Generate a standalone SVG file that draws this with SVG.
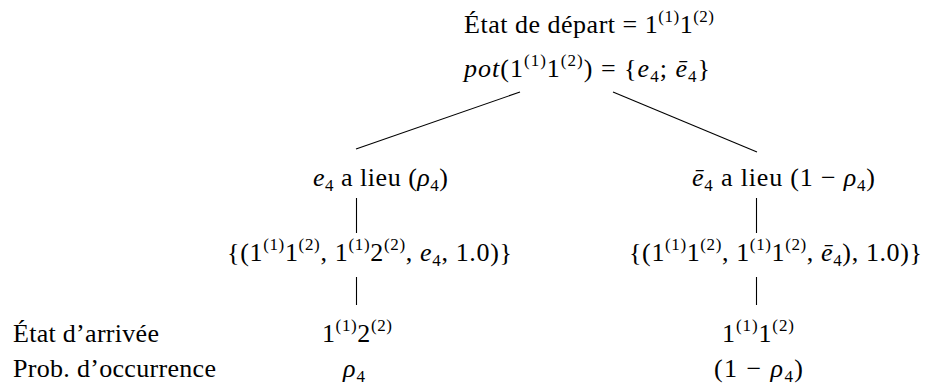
<svg xmlns="http://www.w3.org/2000/svg" width="925" height="387" viewBox="0 0 925 387">
<style>
  text { font-family: "Liberation Serif", "Times New Roman", serif; font-size: 26px; fill: #000; }
  .i { font-style: italic; }
  .s { font-size: 17px; }
  .edge { stroke: #000; stroke-width: 1.1; fill: none; }
</style>
<rect width="925" height="387" fill="#fff"/>
<g id="connectors">
  <line class="edge" x1="520" y1="92" x2="356" y2="149"/>
  <line class="edge" x1="613" y1="92" x2="757" y2="152"/>
  <line class="edge" x1="356.5" y1="198" x2="356.5" y2="233"/>
  <line class="edge" x1="356.5" y1="277" x2="356.5" y2="305"/>
  <line class="edge" x1="756.5" y1="198" x2="756.5" y2="233"/>
  <line class="edge" x1="756.5" y1="277" x2="756.5" y2="305"/>
</g>
<g id="start">
  <text x="464" y="33" textLength="250">État de départ = 1<tspan class="s" dy="-11">(1)</tspan><tspan dy="11">1</tspan><tspan class="s" dy="-11">(2)</tspan></text>
  <text x="464" y="77" textLength="246"><tspan class="i">pot</tspan>(1<tspan class="s" dy="-11">(1)</tspan><tspan dy="11">1</tspan><tspan class="s" dy="-11">(2)</tspan><tspan dy="11">) = {</tspan><tspan class="i">e</tspan><tspan class="s" dy="5">4</tspan><tspan dy="-5">; </tspan><tspan class="i">ē</tspan><tspan class="s" dy="5">4</tspan><tspan dy="-5">}</tspan></text>
</g>
<g id="event-left">
  <text x="313" y="186" textLength="135"><tspan class="i">e</tspan><tspan class="s" dy="5">4</tspan><tspan dy="-5"> a lieu (</tspan><tspan class="i">ρ</tspan><tspan class="s" dy="5">4</tspan><tspan dy="-5">)</tspan></text>
</g>
<g id="set-left">
  <text x="227" y="261" textLength="285">{(1<tspan class="s" dy="-11">(1)</tspan><tspan dy="11">1</tspan><tspan class="s" dy="-11">(2)</tspan><tspan dy="11">, 1</tspan><tspan class="s" dy="-11">(1)</tspan><tspan dy="11">2</tspan><tspan class="s" dy="-11">(2)</tspan><tspan dy="11">, </tspan><tspan class="i">e</tspan><tspan class="s" dy="5">4</tspan><tspan dy="-5">, 1.0)}</tspan></text>
</g>
<g id="end-left">
  <text x="322" y="342" textLength="70">1<tspan class="s" dy="-11">(1)</tspan><tspan dy="11">2</tspan><tspan class="s" dy="-11">(2)</tspan></text>
</g>
<g id="prob-left">
  <text x="343" y="377" textLength="22"><tspan class="i">ρ</tspan><tspan class="s" dy="5">4</tspan></text>
</g>
<g id="event-right">
  <text x="692" y="186" textLength="183"><tspan class="i">ē</tspan><tspan class="s" dy="5">4</tspan><tspan dy="-5"> a lieu (1 − </tspan><tspan class="i">ρ</tspan><tspan class="s" dy="5">4</tspan><tspan dy="-5">)</tspan></text>
</g>
<g id="set-right">
  <text x="629" y="261" textLength="293">{(1<tspan class="s" dy="-11">(1)</tspan><tspan dy="11">1</tspan><tspan class="s" dy="-11">(2)</tspan><tspan dy="11">, 1</tspan><tspan class="s" dy="-11">(1)</tspan><tspan dy="11">1</tspan><tspan class="s" dy="-11">(2)</tspan><tspan dy="11">, </tspan><tspan class="i">ē</tspan><tspan class="s" dy="5">4</tspan><tspan dy="-5">), 1.0)}</tspan></text>
</g>
<g id="end-right">
  <text x="722" y="342" textLength="72">1<tspan class="s" dy="-11">(1)</tspan><tspan dy="11">1</tspan><tspan class="s" dy="-11">(2)</tspan></text>
</g>
<g id="prob-right">
  <text x="714" y="377" textLength="89">(1 − <tspan class="i">ρ</tspan><tspan class="s" dy="5">4</tspan><tspan dy="-5">)</tspan></text>
</g>
<g id="row-labels">
  <text x="13" y="342" textLength="146">État d’arrivée</text>
  <text x="13" y="377" textLength="203">Prob. d’occurrence</text>
</g>
</svg>
